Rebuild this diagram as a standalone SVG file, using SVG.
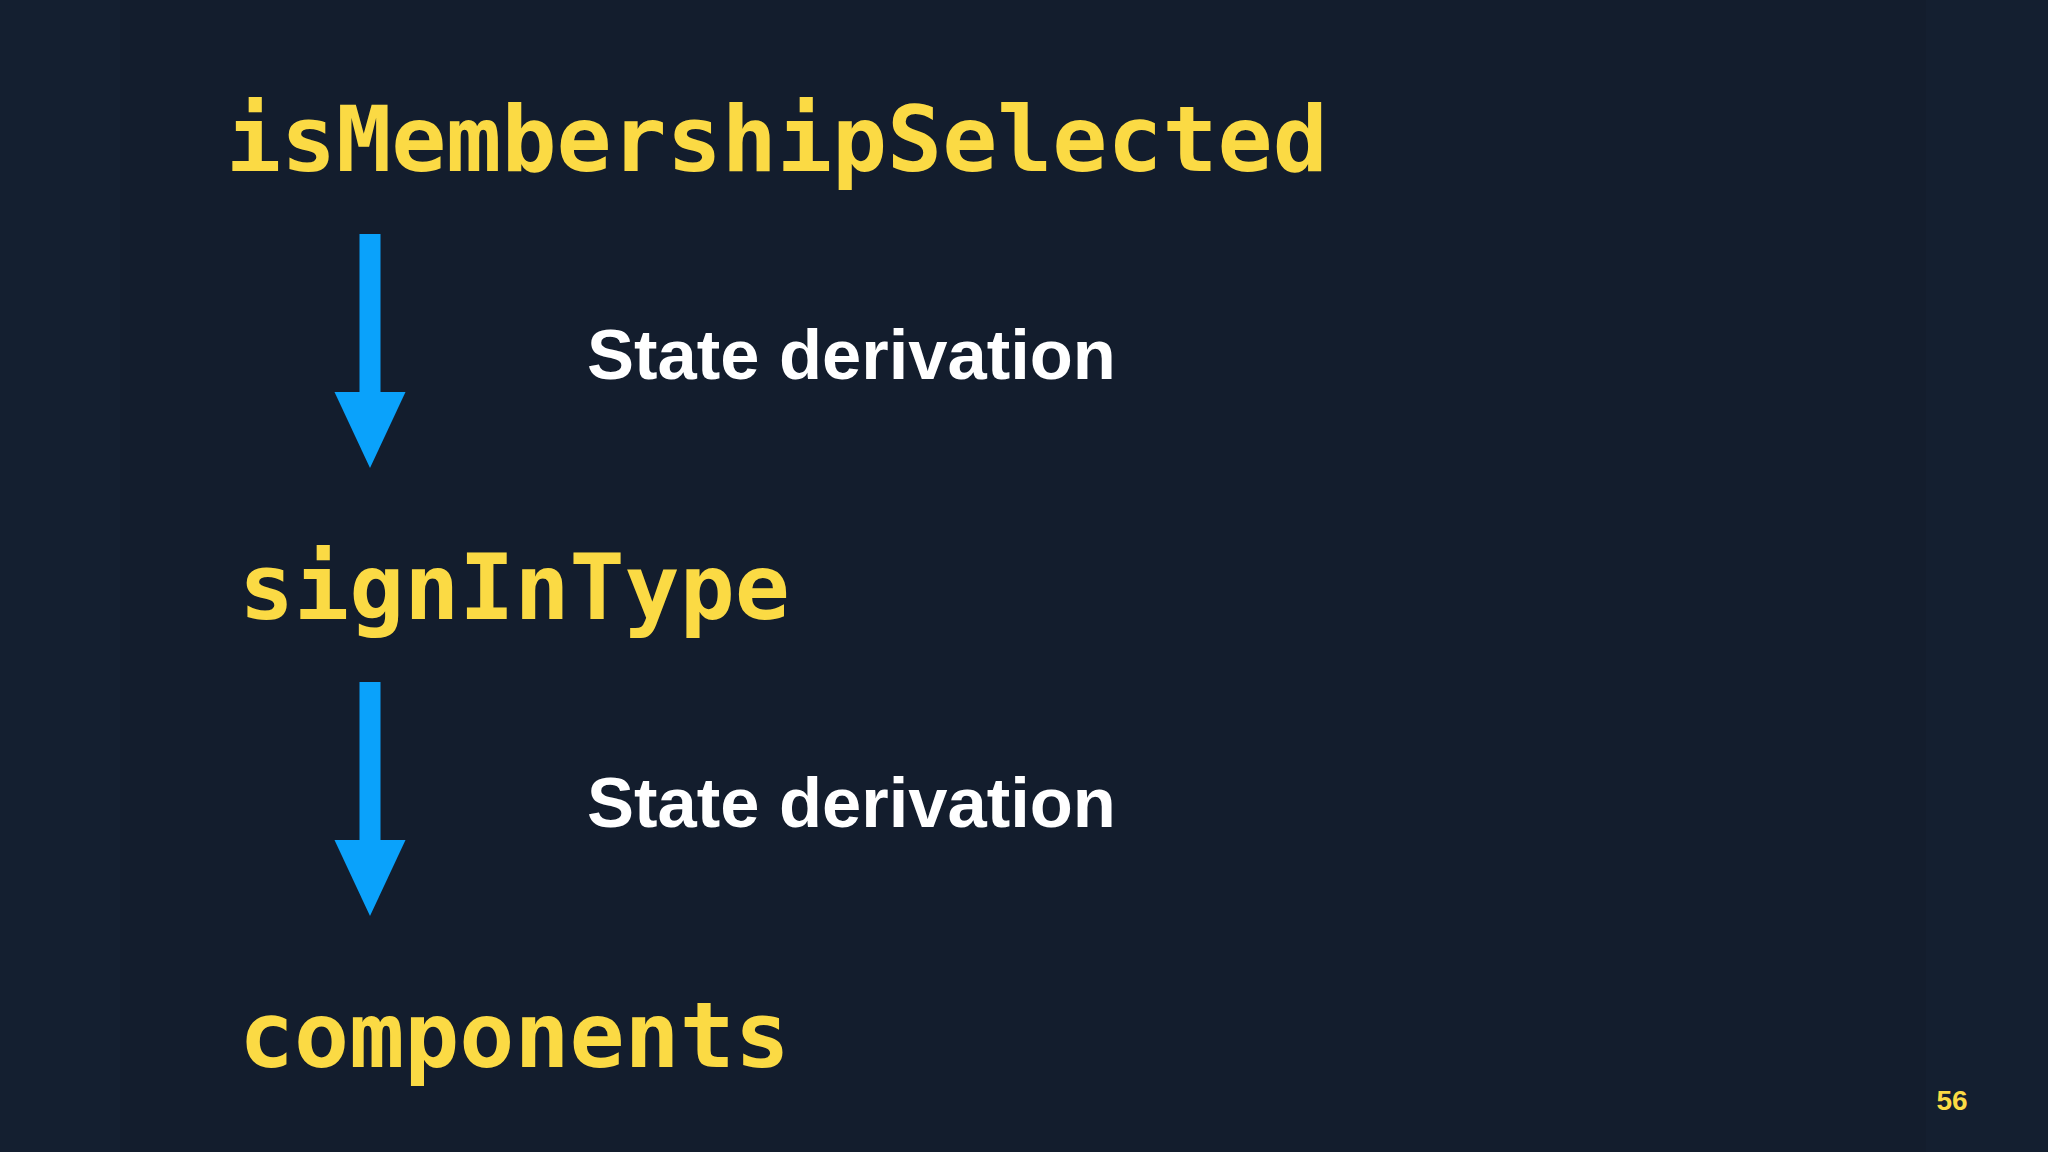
<svg xmlns="http://www.w3.org/2000/svg" width="2048" height="1152" viewBox="0 0 2048 1152">
  <defs>
    <style>
      .code { font-family: "DejaVu Sans Mono", "Liberation Mono", monospace; font-weight: bold; font-size: 91.5px; fill: #fbda44; }
      .label { font-family: "Liberation Sans", Arial, sans-serif; font-weight: bold; font-size: 70.5px; fill: #ffffff; }
      .page { font-family: "Liberation Sans", Arial, sans-serif; font-weight: 900; font-size: 28px; fill: #fbda44; }
      .shaft { stroke: #0aa2fb; stroke-width: 21; fill: none; }
    </style>
    <marker id="head" markerUnits="userSpaceOnUse" markerWidth="80" markerHeight="74" viewBox="0 -37 80 74" refX="0" refY="0" orient="auto" overflow="visible">
      <path d="M0,-35.5 L76,0 L0,35.5 Z" fill="#0aa2fb"/>
    </marker>
  </defs>
  <rect x="0" y="0" width="2048" height="1152" fill="#141f30"/>
  <rect x="120" y="0" width="1806" height="1152" fill="#131d2d"/>

  <g id="connectors">
    <line class="shaft" x1="370" y1="234" x2="370" y2="392" marker-end="url(#head)"/>
    <line class="shaft" x1="370" y1="682" x2="370" y2="840" marker-end="url(#head)"/>
  </g>

  <g id="node-isMembershipSelected">
    <text class="code" x="226" y="171">isMembershipSelected</text>
  </g>
  <g id="node-signInType">
    <text class="code" x="239" y="619">signInType</text>
  </g>
  <g id="node-components">
    <text class="code" x="239" y="1067">components</text>
  </g>

  <g id="label-derivation-1">
    <text class="label" x="587" y="379">State derivation</text>
  </g>
  <g id="label-derivation-2">
    <text class="label" x="587" y="827">State derivation</text>
  </g>

  <g id="page-number">
    <text class="page" x="1952" y="1110" text-anchor="middle">56</text>
  </g>
</svg>
